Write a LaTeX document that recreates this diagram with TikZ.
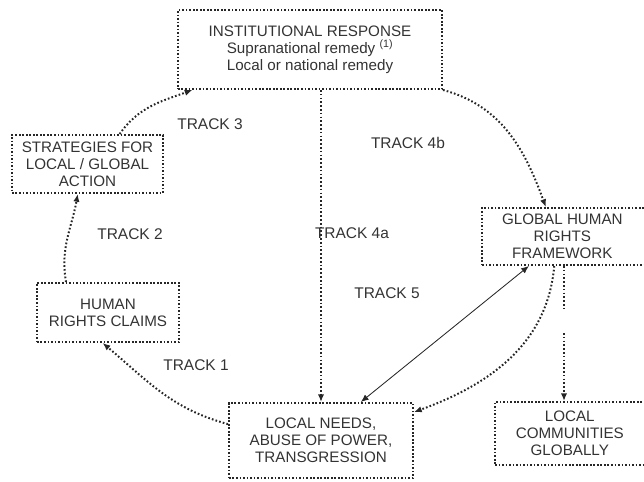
\documentclass[tikz,border=0pt]{standalone}
\usepackage{fontspec}
\setmainfont{Liberation Sans}
\usetikzlibrary{
  arrows.meta,
  positioning,
  calc
}

\begin{document}
\begin{tikzpicture}[
    x=0.025cm,
    y=0.025cm,
    >={Latex[length=5.5pt,width=4.5pt]},
    box/.style={draw=black!85, line width=1.4pt, dash pattern=on 1.2pt off 1.3pt,
      align=center, inner sep=2pt, text=black!80,
      font=\fontsize{10.8}{12}\selectfont},
    track/.style={draw=black!85, line width=1.4pt, dash pattern=on 1.2pt off 1.5pt},
    link/.style={draw=black!85, line width=0.6pt},
    lbl/.style={text=black!80, font=\fontsize{11}{12}\selectfont}
    ]

    \useasboundingbox (0,0) rectangle (644,481);

    % caixas
    \node[box, minimum width=6.6cm, minimum height=1.975cm] (inst) at (310,431.5)
    {INSTITUTIONAL RESPONSE\\Supranational remedy \textsuperscript{(1)}\\Local or national remedy};

    \node[box, minimum width=3.775cm, minimum height=1.45cm] (strat) at (87.5,317)
    {STRATEGIES FOR\\LOCAL / GLOBAL\\ACTION};

    \node[box, minimum width=3.55cm, minimum height=1.475cm] (claims) at (108,168.5)
    {HUMAN\\RIGHTS CLAIMS};

    \node[box, minimum width=4.6cm, minimum height=1.875cm] (needs) at (321,40.5)
    {LOCAL NEEDS,\\ABUSE OF POWER,\\TRANSGRESSION};

    \node[box, minimum width=4.3cm, minimum height=1.425cm] (glob) at (568,244.5)
    {\hspace*{-8pt}GLOBAL HUMAN\\\hspace*{-8pt}RIGHTS\\\hspace*{-8pt}FRAMEWORK};

    \node[box, minimum width=3.95cm, minimum height=1.575cm] (comm) at (574,47.5)
    {\hspace*{-6pt}LOCAL\\\hspace*{-6pt}COMMUNITIES\\\hspace*{-6pt}GLOBALLY};

    % ciclo
    \draw[track,->] (needs.170) to[out=165,in=-40] (claims.260);
    \draw[track,->] (claims.144) to[out=100,in=-100] (strat.252);
    \draw[track,->] (strat.43) to[out=55,in=200] (inst.199);
    \draw[track,->] (inst.south east) to[out=-15,in=110] (glob.127);
    \draw[track,->] (glob.245) to[out=-95,in=20] (needs.17);

    % linhas diretas
    \draw[track,->] (needs.north |- inst.south) -- (needs.north);
    \draw[link,<->] (needs.44) -- (glob.217);

    \coordinate (gapA) at (564,171);
    \coordinate (gapB) at (564,148);
    \draw[track] (gapA |- glob.south) -- (gapA);
    \draw[track,->] (gapB) -- (gapB |- comm.north);

    % rotulos
    \node[lbl] (t3) at (210,357) {TRACK 3};
    \node[lbl] (t4b) at (408,338) {TRACK 4b};
    \node[lbl] (t2) at (130,247) {TRACK 2};
    \node[lbl] (t4a) at (352,248) {TRACK 4a};
    \node[lbl] (t5) at (387,188) {TRACK 5};
    \node[lbl] (t1) at (196,116) {TRACK 1};

\end{tikzpicture}
\end{document}
